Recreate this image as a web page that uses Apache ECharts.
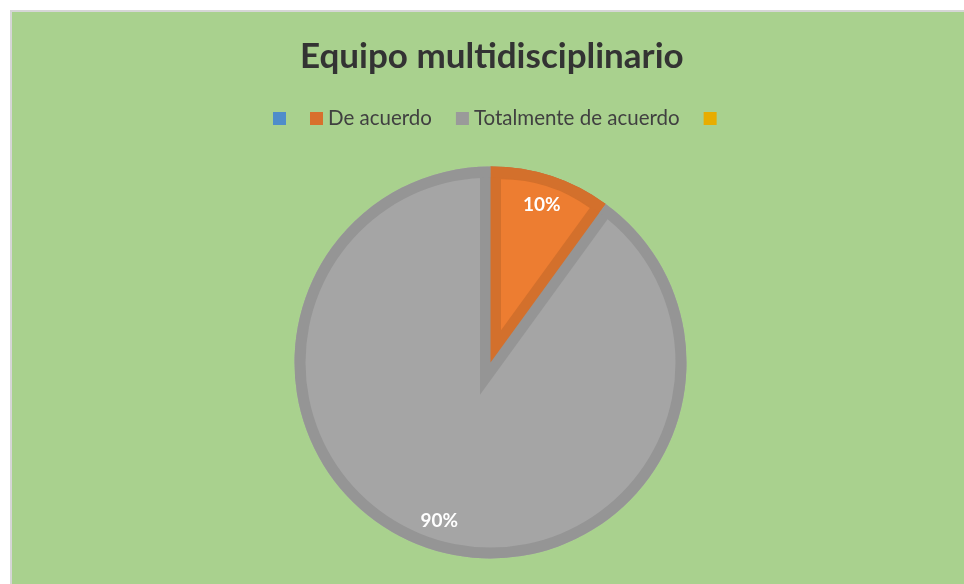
<!DOCTYPE html>
<html>
<head>
<meta charset="utf-8">
<title>Equipo multidisciplinario</title>
<script src="https://cdn.jsdelivr.net/npm/echarts@6/dist/echarts.min.js"></script>
<style>
    html, body { margin: 0; padding: 0; background: #ffffff; }
    #frame {
        position: absolute; left: 10px; top: 10px; right: 0; bottom: 0;
        background: #a9d18e;
        border-left: 2px solid #d6d6d6;
        border-top: 2px solid #d6d6d6;
    }
    #main { position: absolute; left: 0; top: 0; width: 964px; height: 584px; }
</style>
</head>
<body>
<div id="frame"></div>
<div id="main"></div>
<script>
// data (the two blank legend entries have no share)
var categories = [' ', 'De acuerdo', 'Totalmente de acuerdo', '  '];
var values = [0, 10, 90, 0];
var legendColors = ['#4f8dca', '#d8702d', '#9a9a9a', '#e8ad00'];

var fillColors = ['#5b9bd5', '#ed7d31', '#a5a5a5', '#ffc000'];
var edgeColors = ['#4f89be', '#d3702c', '#959595', '#e0aa00'];

var font = 'Lato, "Open Sans", sans-serif';
var center = [490.5, 362.5];
var R = 196;       // outer radius
var edge = 11;     // width of the darker slice border
var inset = 34;    // how far the border corner sits from the centre

var chartDom = document.getElementById('main');
var myChart = echarts.init(chartDom);

var zOrder = 1;

// one pie layer, every slice transparent unless colorFn gives a colour
function layer(radius, colorFn, opts) {
    var s = {
        type: 'pie',
        silent: true,
        z: zOrder++,
        center: center,
        radius: radius,
        startAngle: 90,
        clockwise: true,
        animation: false,
        label: { show: false },
        labelLine: { show: false },
        data: categories.map(function (name, i) {
            return {
                name: name,
                value: values[i],
                itemStyle: { color: colorFn(i) || 'rgba(0,0,0,0)' }
            };
        })
    };
    if (opts) {
        for (var k in opts) s[k] = opts[k];
    }
    return s;
}

// slice with its own border drawn inside it -> built from stacked layers
var series = [
    // gray body, orange area dark gray for now
    layer(R, function (i) { return i === 1 ? edgeColors[2] : fillColors[i]; }),
    // orange area grown by the border width, pulled back to the centre
    layer(R + inset - 8, function (i) { return i === 1 ? edgeColors[2] : null; }, {
        selectedMode: 'multiple',
        selectedOffset: -inset
    }),
    // dark orange wedge
    layer(R, function (i) { return i === 1 ? edgeColors[1] : null; }),
    // outer rim
    layer([R - edge, R], function (i) { return edgeColors[i]; }),
    // light orange inside its border, pushed out
    layer(R - edge - inset, function (i) { return i === 1 ? fillColors[1] : null; }, {
        selectedMode: 'multiple',
        selectedOffset: inset
    }),
    // percent labels
    layer([130, R], function () { return null; }, {
        label: {
            show: true,
            position: 'inside',
            color: '#ffffff',
            fontFamily: font,
            fontWeight: 'bold',
            fontSize: 19,
            formatter: function (p) { return p.value ? Math.round(p.percent) + '%' : ''; }
        }
    })
];
series[1].data[1].selected = true;
series[4].data[1].selected = true;
series[1].select = { itemStyle: { color: edgeColors[2] } };
series[4].select = { itemStyle: { color: fillColors[1] } };

var option = {
    backgroundColor: 'transparent',
    title: {
        text: 'Equipo multidisciplinario',
        left: 295,
        top: 34,
        textStyle: {
            fontFamily: font,
            fontWeight: 'bold',
            fontSize: 35,
            color: '#333333'
        }
    },
    legend: {
        top: 103,
        left: 268,
        selectedMode: false,
        icon: 'rect',
        itemWidth: 13,
        itemHeight: 13,
        itemGap: 24,
        textStyle: { fontFamily: font, fontSize: 20.5, color: '#404040' },
        formatter: function (name) { return name.trim(); },
        data: categories.map(function (name, i) {
            return { name: name, itemStyle: { color: legendColors[i] } };
        })
    },
    series: series
};

myChart.setOption(option);
</script>
</body>
</html>
